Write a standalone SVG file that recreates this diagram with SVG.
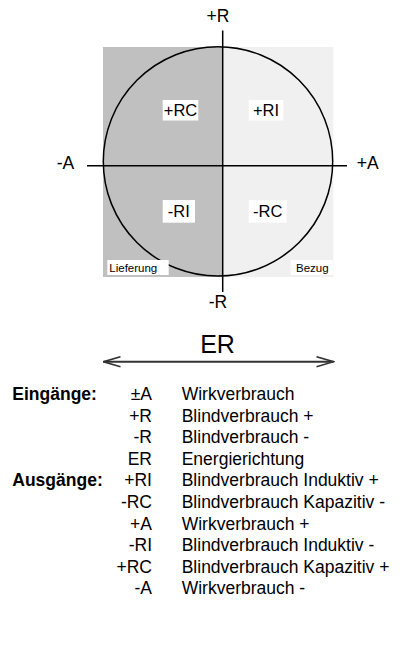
<svg xmlns="http://www.w3.org/2000/svg" width="400" height="646" viewBox="0 0 400 646">
  <style>
    text { font-family: "Liberation Sans", Arial, sans-serif; fill: #000; }
    .axis { font-size: 17.5px; }
    .quad { font-size: 16.5px; }
    .small { font-size: 11.5px; }
    .head { font-size: 17.5px; font-weight: bold; }
    .code { font-size: 17.5px; text-anchor: end; }
    .desc { font-size: 17.5px; }
    .line { stroke: #000; stroke-width: 1.5; fill: none; }
    .box { fill: #fff; }
  </style>
  <defs>
    <marker id="openArrow" viewBox="0 0 20 12" refX="19" refY="6" markerWidth="20" markerHeight="12" markerUnits="userSpaceOnUse" orient="auto-start-reverse">
      <path d="M2 1 L19 6 L2 11" fill="none" stroke="#333" stroke-width="1.6"/>
    </marker>
  </defs>

  <!-- quadrant background: supply (left) and consumption (right) halves -->
  <g id="background">
    <rect x="103" y="47" width="119.7" height="230" fill="#c0c0c0"/>
    <rect x="222.7" y="47" width="110.6" height="230" fill="#f0f0f0"/>
  </g>

  <g id="connectors">
    <circle class="line" cx="218" cy="161.4" r="114.7"/>
    <line class="line" x1="222.7" y1="30.5" x2="222.7" y2="292"/>
    <line class="line" x1="87" y1="165.7" x2="347" y2="165.7"/>
    <line x1="103.5" y1="361.7" x2="333.5" y2="361.7" stroke="#333" stroke-width="2" marker-start="url(#openArrow)" marker-end="url(#openArrow)"/>
  </g>

  <g id="axis-labels">
    <text class="axis" x="218" y="21.7" text-anchor="middle">+R</text>
    <text class="axis" x="218" y="308.3" text-anchor="middle">-R</text>
    <text class="axis" x="56.7" y="169">-A</text>
    <text class="axis" x="356.7" y="169">+A</text>
  </g>

  <g id="q-plus-rc">
    <rect class="box" x="162.7" y="100" width="35.6" height="20.5"/>
    <text class="quad" x="180.5" y="116" text-anchor="middle">+RC</text>
  </g>
  <g id="q-plus-ri">
    <rect class="box" x="248.7" y="100" width="34.6" height="20.5"/>
    <text class="quad" x="266" y="116" text-anchor="middle">+RI</text>
  </g>
  <g id="q-minus-ri">
    <rect class="box" x="162.7" y="200" width="32.3" height="22.7"/>
    <text class="quad" x="178.8" y="217" text-anchor="middle">-RI</text>
  </g>
  <g id="q-minus-rc">
    <rect class="box" x="248.7" y="200" width="38" height="22.7"/>
    <text class="quad" x="267.7" y="217" text-anchor="middle">-RC</text>
  </g>

  <g id="lieferung">
    <rect class="box" x="107.3" y="260" width="61.4" height="15"/>
    <text class="small" x="109.3" y="271.7">Lieferung</text>
  </g>
  <g id="bezug">
    <rect class="box" x="290.7" y="260" width="42" height="15"/>
    <text class="small" x="296" y="271.7">Bezug</text>
  </g>

  <g id="er-label">
    <text x="217.5" y="353" font-size="25" text-anchor="middle">ER</text>
  </g>

  <!-- legend of inputs and outputs -->
  <g id="legend">
    <text class="head" x="12.3" y="400">Eingänge:</text>
    <text class="code" x="152" y="400">±A</text>
    <text class="desc" x="181.7" y="400">Wirkverbrauch</text>

    <text class="code" x="152" y="421.6">+R</text>
    <text class="desc" x="181.7" y="421.6">Blindverbrauch +</text>

    <text class="code" x="152" y="443.2">-R</text>
    <text class="desc" x="181.7" y="443.2">Blindverbrauch -</text>

    <text class="code" x="152" y="464.8">ER</text>
    <text class="desc" x="181.7" y="464.8">Energierichtung</text>

    <text class="head" x="12.3" y="486.4">Ausgänge:</text>
    <text class="code" x="152" y="486.4">+RI</text>
    <text class="desc" x="181.7" y="486.4">Blindverbrauch Induktiv +</text>

    <text class="code" x="152" y="508">-RC</text>
    <text class="desc" x="181.7" y="508">Blindverbrauch Kapazitiv -</text>

    <text class="code" x="152" y="529.6">+A</text>
    <text class="desc" x="181.7" y="529.6">Wirkverbrauch +</text>

    <text class="code" x="152" y="551.2">-RI</text>
    <text class="desc" x="181.7" y="551.2">Blindverbrauch Induktiv -</text>

    <text class="code" x="152" y="572.8">+RC</text>
    <text class="desc" x="181.7" y="572.8">Blindverbrauch Kapazitiv +</text>

    <text class="code" x="152" y="594.4">-A</text>
    <text class="desc" x="181.7" y="594.4">Wirkverbrauch -</text>
  </g>
</svg>
